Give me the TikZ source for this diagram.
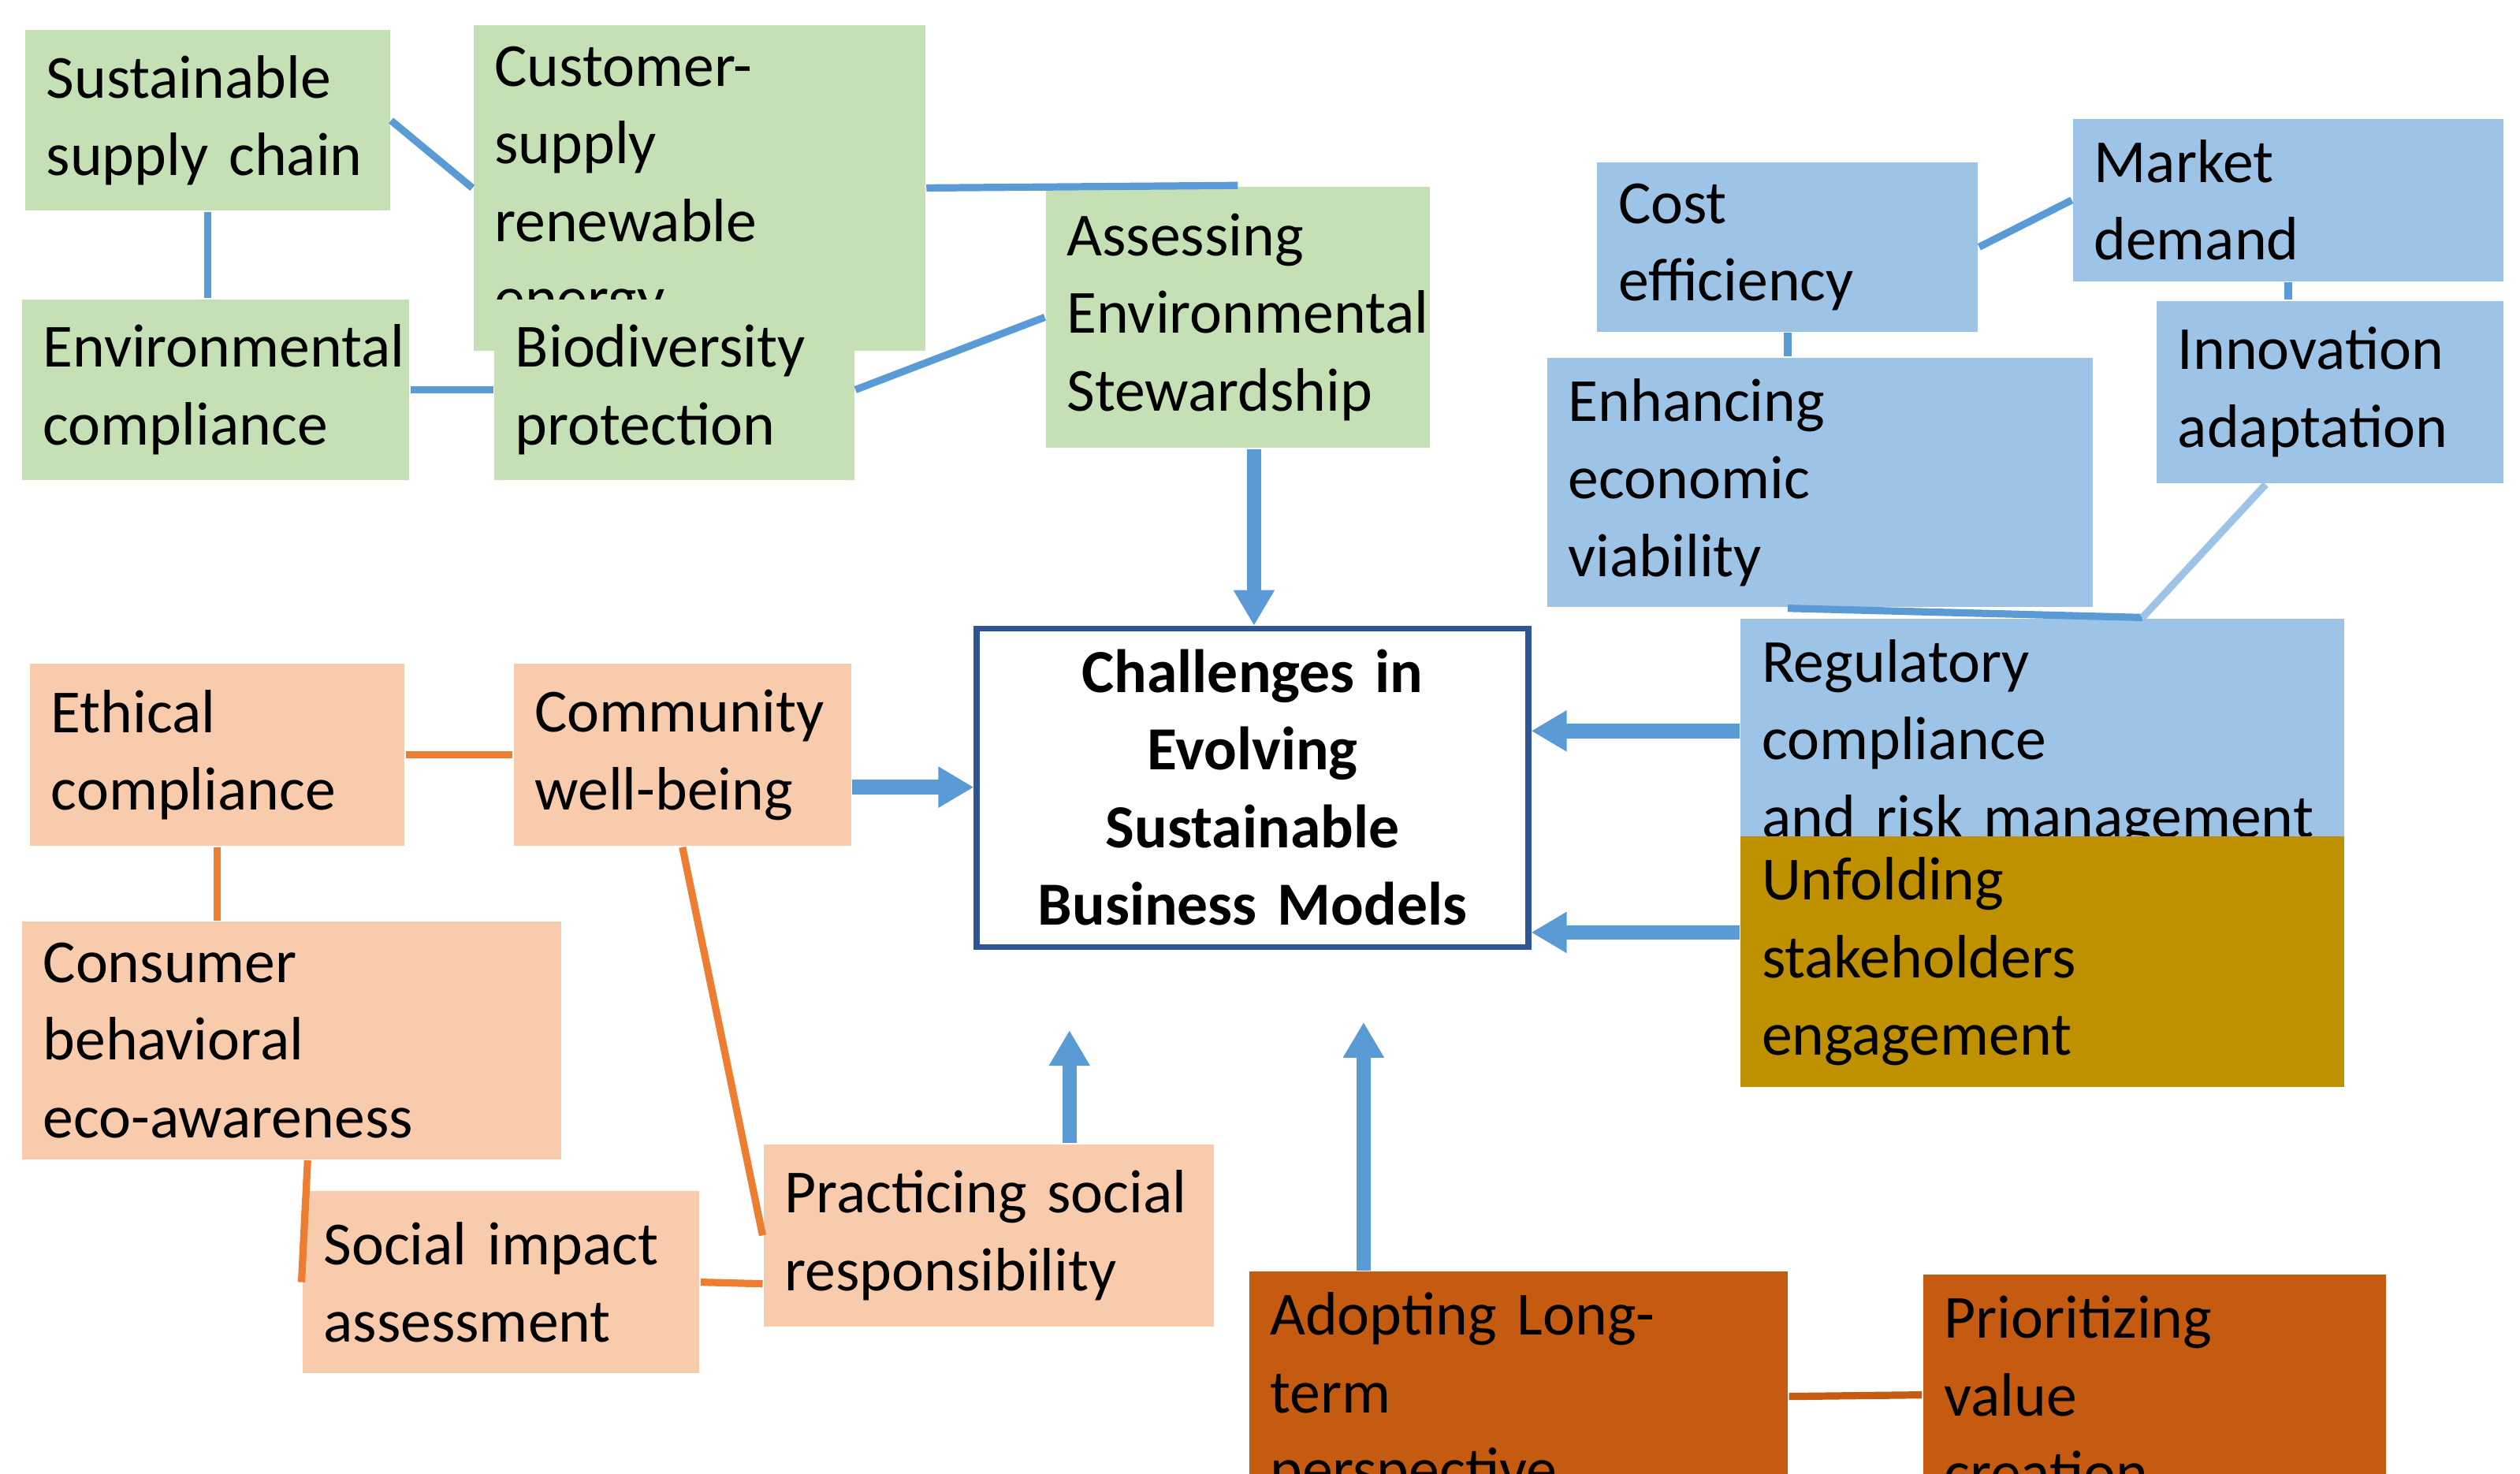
\documentclass[tikz,border=0pt]{standalone}
\usepackage{fontspec}
\setmainfont{Carlito}
\usetikzlibrary{arrows.meta}
\definecolor{Leaf}{HTML}{C5E0B4}
\definecolor{Sky}{HTML}{9DC3E6}
\definecolor{Gold}{HTML}{BF9000}
\definecolor{Peach}{HTML}{F8CBAD}
\definecolor{Rust}{HTML}{C55A11}
\definecolor{Steel}{HTML}{5B9BD5}
\definecolor{Navy}{HTML}{2F5597}
\definecolor{Carrot}{HTML}{ED7D31}

\tikzset{
  box/.style={anchor=north west,align=left,inner sep=0.13cm,font=\fontsize{10.8}{13.7}\selectfont},
  link/.style={line width=0.45mm,draw=Steel},
  olink/.style={line width=0.45mm,draw=Carrot},
  push/.style={line width=0.9mm,draw=Steel,-{Triangle[width=2.4mm,length=2.2mm]}}
}

\begin{document}
\hyphenpenalty=10000
\begin{tikzpicture}[x=0.01cm,y=-0.01cm]
\useasboundingbox (0,0) rectangle (1563,914);

% environmental side
\node (sc) [box,fill=Leaf,text width=2.0cm,minimum height=1.12cm] at (15,18) {Sustainable\\supply chain};
\node (cs) [box,fill=Leaf,text width=2.54cm,minimum height=1.10cm] at (293,15) {Customer-supply\\renewable energy};
\node (ec) [box,fill=Leaf,text width=2.14cm,minimum height=1.12cm] at (13,185) {Environmental\\compliance};
\node (bp) [box,fill=Leaf,text width=1.97cm,minimum height=1.12cm] at (306,185) {Biodiversity\\protection};
\node (aes) [box,fill=Leaf,text width=2.12cm,minimum height=1.62cm] at (648,115) {Assessing\\Environmental\\Stewardship};

% economic side
\node (ce) [box,fill=Sky,text width=2.1cm,minimum height=0.63cm] at (990,100) {Cost efficiency};
\node (md) [box,fill=Sky,text width=2.41cm,minimum height=0.64cm] at (1285,73) {Market demand};
\node (eev) [box,fill=Sky,text width=3.12cm,minimum height=1.12cm] at (959,221) {Enhancing economic\\viability};
\node (ia) [box,fill=Sky,text width=1.89cm,minimum height=1.13cm] at (1337,186) {Innovation\\adaptation};
\node (rc) [box,fill=Sky,text width=3.48cm,minimum height=1.13cm] at (1079,383) {Regulatory compliance\\and risk management};
\node (us) [box,fill=Gold,text width=3.48cm,minimum height=1.12cm] at (1079,518) {Unfolding stakeholders\\engagement};

% centre
\node (ctr) [box,draw=Navy,line width=0.35mm,fill=white,align=center,text width=3.16cm,minimum height=1.64cm,font=\bfseries\fontsize{10.8}{13.7}\selectfont] at (604,388) {Challenges in\\Evolving Sustainable\\Business Models};

% social side
\node (eth) [box,fill=Peach,text width=2.06cm,minimum height=1.13cm] at (18,411) {Ethical\\compliance};
\node (cw) [box,fill=Peach,text width=1.83cm,minimum height=1.13cm] at (318,411) {Community\\well-being};
\node (cb) [box,fill=Peach,text width=3.08cm,minimum height=1.13cm] at (13,571) {Consumer behavioral\\eco-awareness};
\node (si) [box,fill=Peach,text width=2.2cm,minimum height=1.13cm] at (187,738) {Social impact\\assessment};
\node (ps) [box,fill=Peach,text width=2.53cm,minimum height=1.13cm] at (473,709) {Practicing social\\responsibility};
\node (al) [box,fill=Rust,text width=3.08cm,minimum height=1.13cm] at (774,788) {Adopting Long-term\\perspective};
\node (pv) [box,fill=Rust,text width=2.61cm,minimum height=1.12cm] at (1192,790) {Prioritizing value\\creation};

% connectors
\draw [link] (sc.east) -- (cs.west);
\draw [link] (cs.east) -- (aes.north);
\draw [link] (sc.south) -- (sc.south |- ec.north);
\draw [link] (ec.east) -- (bp.west);
\draw [link] (bp.east) -- (aes.west);
\draw [link] (ce.east) -- (md.west);
\draw [link] (ce.south) -- (ce.south |- eev.north);
\draw [link] (md.south) -- (md.south |- ia.north);
\draw [link] ([xshift=-0.2cm]eev.south) -- ([xshift=0.62cm]rc.north);
\draw [link,draw=Sky] ([xshift=-0.4cm]ia.south) -- ([xshift=0.62cm]rc.north);
\draw [olink] (eth.east) -- (cw.west);
\draw [olink] (eth.south) -- (eth.south |- cb.north);
\draw [olink] ([xshift=0.1cm]cb.south) -- (si.west);
\draw [olink] (cw.south) -- (ps.west);
\draw [olink] (si.east) -- ([yshift=-0.3cm]ps.west);
\draw [olink,draw=Rust] (al.east) -- (pv.west);

% arrows into the centre
\draw [push] ([xshift=0.1cm]aes.south) -- ([xshift=0.1cm]aes.south |- ctr.north);
\draw [push] ([yshift=-0.2cm]cw.east) -- ([yshift=-0.2cm]cw.east -| ctr.west);
\draw [push] ([yshift=0.08cm]rc.west) -- ([yshift=0.08cm]rc.west -| ctr.east);
\draw [push] ([yshift=0.18cm]us.west) -- ([yshift=0.18cm]us.west -| ctr.east);
\draw [push,shorten >=0.5cm] ([xshift=0.5cm]ps.north) -- ([xshift=0.5cm]ps.north |- ctr.south);
\draw [push,shorten >=0.45cm] ([xshift=-0.96cm]al.north) -- ([xshift=-0.96cm]al.north |- ctr.south);

\end{tikzpicture}
\end{document}
